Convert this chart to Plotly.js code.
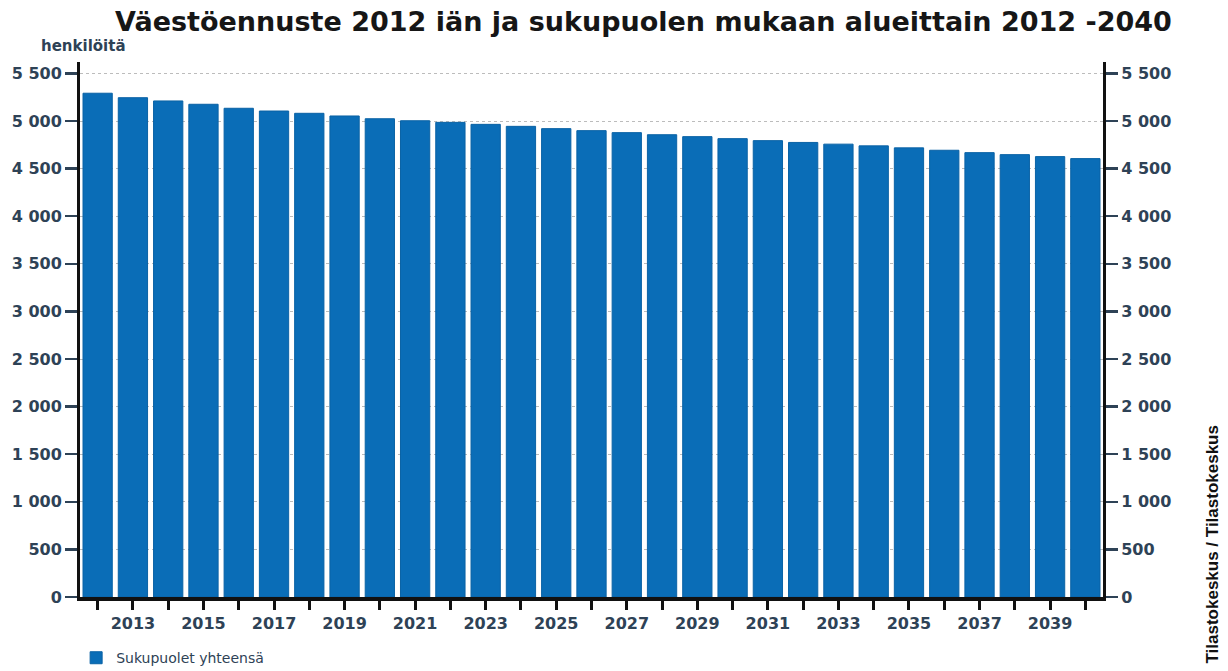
<!DOCTYPE html>
<html>
<head>
<meta charset="utf-8">
<script src="https://cdn.plot.ly/plotly-3.0.1.min.js"></script>
<style>html,body{margin:0;padding:0;background:#fff;}#chart{width:1228px;height:671px;}</style>
</head>
<body>
<div id="chart"></div>
<script>
const years = [2012,2013,2014,2015,2016,2017,2018,2019,2020,2021,2022,2023,2024,2025,2026,2027,2028,2029,2030,2031,2032,2033,2034,2035,2036,2037,2038,2039,2040];
const population = [5292,5245,5211,5176,5134,5105,5081,5053,5024,5003,4986,4965,4944,4920,4899,4878,4856,4836,4815,4794,4775,4757,4739,4718,4693,4668,4647,4626,4605];
const yTickVals = [0,500,1000,1500,2000,2500,3000,3500,4000,4500,5000,5500];
const yTickText = ['0','500','1 000','1 500','2 000','2 500','3 000','3 500','4 000','4 500','5 000','5 500'];
const xTickText = years.map(y => (y % 2 === 1 ? String(y) : ''));
const seriesName = 'Sukupuolet yhteensä';
const titleText = 'Väestöennuste 2012 iän ja sukupuolen mukaan alueittain 2012 -2040';
const unitText = 'henkilöitä';
const sourceText = 'Tilastokeskus / Tilastokeskus';

const wide = 'DejaVu Sans, Verdana, sans-serif';
const tickFont = {family: wide, size: 16, color: '#2e4256', weight: 'bold'};

const traces = [{
  type: 'bar',
  x: years,
  y: population,
  name: seriesName,
  marker: {color: '#0a6db7', line: {color: '#0a62a5', width: 1}},
  hoverinfo: 'x+y'
}, {
  // same series mirrored on the right-hand axis so that axis is drawn
  type: 'scatter', mode: 'markers',
  x: years, y: population, yaxis: 'y2',
  marker: {opacity: 0, size: 1},
  showlegend: false, hoverinfo: 'skip'
}];

const layout = {
  width: 1228, height: 671,
  margin: {l: 80, r: 125, t: 62, b: 74},
  paper_bgcolor: '#ffffff', plot_bgcolor: '#ffffff',
  bargap: 0.17,
  font: {family: wide},
  title: {text: '<b>' + titleText + '</b>', font: {family: wide, size: 27, color: '#161616'}, x: 0.524, xanchor: 'center', y: 0.968, yanchor: 'middle', xref: 'container', yref: 'container'},
  xaxis: {
    range: [2011.5, 2040.5],
    tickvals: years, ticktext: xTickText,
    ticks: 'outside', ticklen: 9, tickwidth: 3, tickcolor: '#111',
    showline: true, linecolor: '#111', linewidth: 4,
    showgrid: false, zeroline: false,
    tickfont: tickFont
  },
  yaxis: {
    range: [0, 5620],
    tickvals: yTickVals, ticktext: yTickText,
    ticks: 'outside', ticklen: 12, tickwidth: 2.5, tickcolor: '#2e4256',
    showline: true, linecolor: '#111', linewidth: 3,
    showgrid: true, gridcolor: '#bcbcbc', gridwidth: 1, griddash: 'dot',
    zeroline: false,
    tickfont: tickFont
  },
  yaxis2: {
    overlaying: 'y', side: 'right', anchor: 'x',
    range: [0, 5620],
    tickvals: yTickVals, ticktext: yTickText,
    ticks: 'outside', ticklen: 12, tickwidth: 2.5, tickcolor: '#2e4256',
    showline: true, linecolor: '#111', linewidth: 3,
    showgrid: false, zeroline: false,
    tickfont: tickFont
  },
  showlegend: true,
  legend: {xref: 'container', yref: 'container', x: 0.062, xanchor: 'left', y: 0.043, yanchor: 'top', orientation: 'h',
    font: {family: wide, size: 14, color: '#2e4256'}, bgcolor: 'rgba(0,0,0,0)'},
  annotations: [
    {text: '<b>' + unitText + '</b>', xref: 'paper', yref: 'paper', x: -0.04, xanchor: 'left', y: 1.03, yanchor: 'middle', showarrow: false,
     font: {family: wide, size: 15, color: '#2e4256'}},
    {text: '<b>' + sourceText + '</b>', xref: 'paper', yref: 'paper', x: 1.107, xanchor: 'center', y: 0.099, yanchor: 'middle', textangle: -90, showarrow: false,
     font: {family: 'Liberation Sans, Arial, sans-serif', size: 17, color: '#111'}}
  ]
};

Plotly.newPlot('chart', traces, layout, {displayModeBar: false, staticPlot: true});
</script>
</body>
</html>
